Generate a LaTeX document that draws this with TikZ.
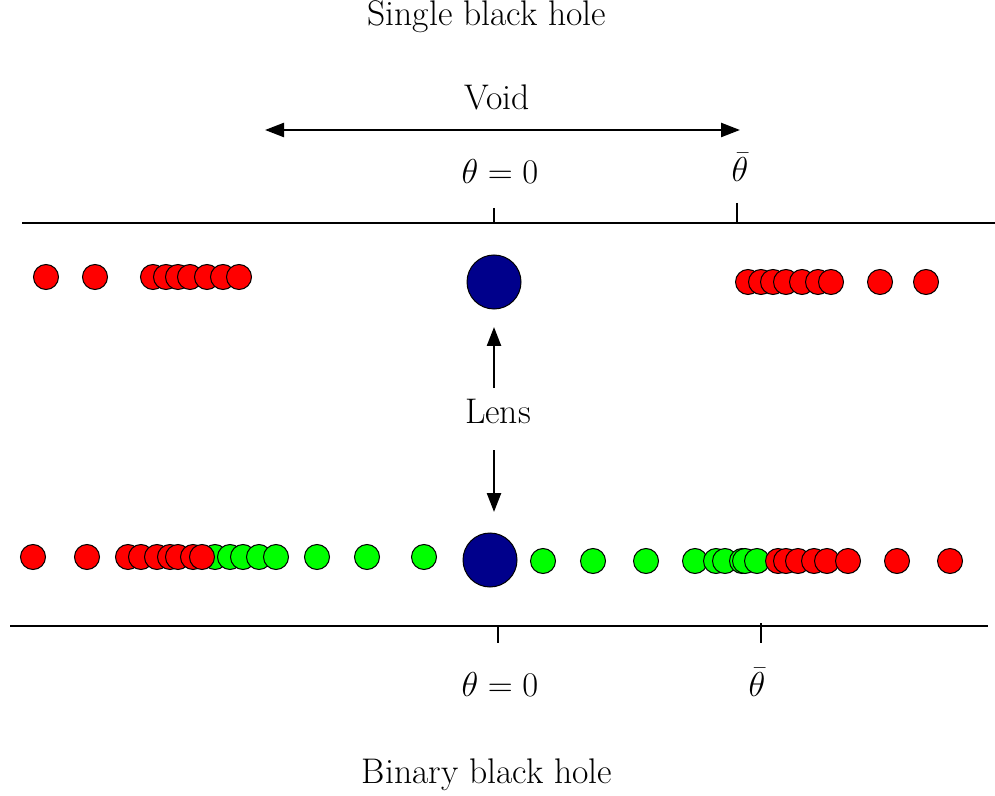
\documentclass[tikz,border=0pt]{standalone}
\usetikzlibrary{arrows.meta}
\definecolor{lensblue}{RGB}{0,0,139}
\begin{document}
\begin{tikzpicture}[x=0.5pt,y=-0.5pt,
  font=\fontsize{17.8}{21}\selectfont,
  src/.style={circle,draw=black,line width=0.5pt,minimum size=12.5pt,inner sep=0pt},
  redsrc/.style={src,fill=red},
  greensrc/.style={src,fill=green},
  lens/.style={circle,draw=black,line width=0.5pt,fill=lensblue,minimum size=27pt,inner sep=0pt},
  axisline/.style={line width=0.6pt},
  tickline/.style={line width=0.6pt},
  arr/.style={line width=1.2pt,-{Triangle[length=9.5pt,width=7pt]}},
  dblarr/.style={line width=1.2pt,{Triangle[length=9.5pt,width=7pt]}-{Triangle[length=9.5pt,width=7pt]}},
  lbl/.style={inner sep=0pt}]
\useasboundingbox (0,0) rectangle (995,796);

% titles
\node[lbl] (t1) at (487,17) {Single black hole};
\node[lbl] (t2) at (487,775) {Binary black hole};

% void arrow
\node[lbl] (void) at (497,97) {Void};
\coordinate (vl) at (265,130);
\coordinate (vr) at (740,130);
\draw[dblarr] (vl) -- (vr);

% top axis
\coordinate (ta1) at (22,223);
\coordinate (ta2) at (995,223);
\draw[axisline] (ta1) -- (ta2);
\coordinate (tt1a) at (494,208); \coordinate (tt1b) at (494,223);
\coordinate (tt2a) at (737,203); \coordinate (tt2b) at (737,223);
\draw[tickline] (tt1a) -- (tt1b);
\draw[tickline] (tt2a) -- (tt2b);
\node[lbl] (th0top) at (500,172) {$\theta = 0$};
\node[lbl] (thbtop) at (740,167) {$\bar\theta$};

% top sources
\foreach \x [count=\i] in {46,95,153,166,178,190,207,223,239}
  \node[redsrc] (tl\i) at (\x,277) {};
\foreach \x [count=\i] in {748,761,773,786,802,818,831,880,926}
  \node[redsrc] (tr\i) at (\x,282) {};
\node[lens] (lenstop) at (494,282) {};

% lens label and arrows
\node[lbl] (lenslbl) at (498,411) {Lens};
\coordinate (ua1) at (494,388); \coordinate (ua2) at (494,327);
\coordinate (da1) at (494,450); \coordinate (da2) at (494,512);
\draw[arr] (ua1) -- (ua2);
\draw[arr] (da1) -- (da2);

% bottom sources
\foreach \x [count=\i] in {215,230,243,259,276,317,367,424}
  \node[greensrc] (bgl\i) at (\x,557) {};
\foreach \x [count=\i] in {33,87,128,141,157,170,178,193,202}
  \node[redsrc] (brl\i) at (\x,557) {};
\foreach \x [count=\i] in {543,593,646,695,716,725,742,745,757}
  \node[greensrc] (bgr\i) at (\x,561) {};
\foreach \x [count=\i] in {778,786,798,814,827,848,897,950}
  \node[redsrc] (brr\i) at (\x,561) {};
\node[lens] (lensbot) at (490,560) {};

% bottom axis
\coordinate (ba1) at (10,626);
\coordinate (ba2) at (988,626);
\draw[axisline] (ba1) -- (ba2);
\coordinate (bt1a) at (498,626); \coordinate (bt1b) at (498,643);
\coordinate (bt2a) at (761,623); \coordinate (bt2b) at (761,643);
\draw[tickline] (bt1a) -- (bt1b);
\draw[tickline] (bt2a) -- (bt2b);
\node[lbl] (th0bot) at (500,684) {$\theta = 0$};
\node[lbl] (thbbot) at (757,682) {$\bar\theta$};
\end{tikzpicture}
\end{document}
